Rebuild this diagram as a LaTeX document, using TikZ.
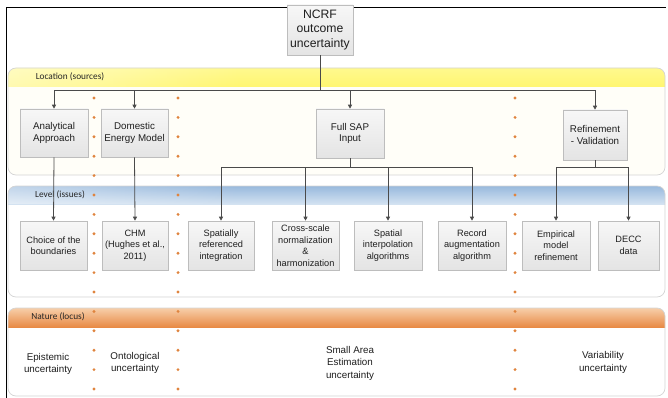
\documentclass[tikz,border=0pt]{standalone}
\usepackage{fontspec}
\setmainfont{Liberation Sans}
\newfontfamily\bandfont{Carlito}
\usetikzlibrary{arrows.meta,shadows,fadings}

\definecolor{boxline}{HTML}{BDBDBD}
\definecolor{boxtop}{HTML}{F7F7F7}
\definecolor{boxbot}{HTML}{E4E4E4}
\definecolor{wire}{HTML}{4A4A4A}
\definecolor{dotc}{HTML}{E0843E}
\definecolor{txt}{HTML}{1F1F1F}
\definecolor{panelline}{HTML}{D4D4D4}
\definecolor{cream}{HTML}{FFFEF8}
\definecolor{yA}{HTML}{FFF98E}
\definecolor{yB}{HTML}{FFF42C}
\definecolor{yC}{HTML}{FFF670}
\definecolor{bA}{HTML}{98B9DD}
\definecolor{bB}{HTML}{B1CAE6}
\definecolor{bC}{HTML}{D3E2F1}
\definecolor{oA}{HTML}{F7CFAA}
\definecolor{oB}{HTML}{F0A467}
\definecolor{oC}{HTML}{E88A45}

\tikzfading[name=paleleft, left color=transparent!0, right color=transparent!100]

\tikzset{
  box/.style={draw=boxline, line width=0.6pt, top color=boxtop, bottom color=boxbot,
    align=center, text=txt, inner sep=1pt,
    drop shadow={shadow xshift=1.3pt, shadow yshift=-1.3pt, opacity=0.25}},
  srcbox/.style={box, font=\fontsize{9.8}{11.5}\selectfont, minimum height=48pt},
  issuebox/.style={box, font=\fontsize{9.2}{11.5}\selectfont, minimum height=49pt},
  naturetext/.style={align=center, text=txt, font=\fontsize{9.8}{12.5}\selectfont},
  bandlabel/.style={text=black!85, font=\bandfont\fontsize{9.3}{11}\selectfont},
  wirestyle/.style={draw=wire, line width=0.8pt},
  arr/.style={wirestyle, -{Triangle[length=4pt, width=4pt]}},
  odot/.style={fill=dotc, draw=none},
}

\begin{document}
\begin{tikzpicture}[x=1pt, y=-1pt]
\useasboundingbox (0,0) rectangle (668,398);

% outer frame edges
\draw[black, line width=0.8pt] (6,398) -- (6,7) -- (666,7);

% ---- panels with coloured header bands ----
% Location (sources)
\fill[cream, rounded corners=8pt] (8,68) rectangle (665,175);
\begin{scope}
  \clip[rounded corners=8pt] (8,68) rectangle (665,175);
  \shade[top color=yA, middle color=yB, bottom color=yC] (8,68) rectangle (665,87);
  \fill[white, fill opacity=0.45, path fading=paleleft] (8,68) rectangle (240,87);
\end{scope}
\draw[panelline, line width=0.7pt, rounded corners=8pt] (8,68) rectangle (665,175);

% Level (issues)
\fill[white, rounded corners=8pt] (8,186) rectangle (665,297);
\begin{scope}
  \clip[rounded corners=8pt] (8,186) rectangle (665,297);
  \shade[top color=bA, middle color=bB, bottom color=bC] (8,186) rectangle (665,204);
  \fill[white, fill opacity=0.4, path fading=paleleft] (8,186) rectangle (240,204);
\end{scope}
\draw[panelline, line width=0.7pt, rounded corners=8pt] (8,186) rectangle (665,297);

% Nature (locus)
\fill[white, rounded corners=8pt] (8,308) rectangle (665,396);
\begin{scope}
  \clip[rounded corners=8pt] (8,308) rectangle (665,396);
  \shade[top color=oA, middle color=oB, bottom color=oC] (8,308) rectangle (665,327);
\end{scope}
\draw[panelline, line width=0.7pt, rounded corners=8pt] (8,308) rectangle (665,396);

\node[bandlabel] (lbl1) at (70,77) {Location (sources)};
\node[bandlabel] (lbl2) at (60,195) {Level (issues)};
\node[bandlabel] (lbl3) at (58,317) {Nature (locus)};

% ---- dotted column separators ----
\foreach \cx in {94,178,515}{
  \foreach \k in {0,...,15}{
    \fill[odot] (\cx,98+19.4*\k) circle (1.6pt);
  }
}

% ---- root ----
\node[box, font=\fontsize{12.2}{14.5}\selectfont, minimum width=66pt, minimum height=50pt]
  (ncrf) at (320,30) {NCRF\\outcome\\uncertainty};

% ---- sources ----
\node[srcbox, minimum width=68pt] (ana) at (54,133) {Analytical\\Approach};
\node[srcbox, minimum width=67pt] (dem) at (134.5,133) {Domestic\\Energy Model};
\node[srcbox, minimum width=68pt, minimum height=49pt] (sap) at (350,133.5) {Full SAP\\Input};
\node[srcbox, minimum width=64pt, minimum height=50pt] (ref) at (595,135) {Refinement\\- Validation};

% ---- issues ----
\node[issuebox, minimum width=67pt] (choice) at (53.5,245.5) {Choice of the\\boundaries};
\node[issuebox, minimum width=66pt] (chm) at (135,245.5) {CHM\\(Hughes et al.,\\2011)};
\node[issuebox, minimum width=66pt] (sri) at (221,245.5) {Spatially\\referenced\\integration};
\node[issuebox, minimum width=65pt, text width=65pt] (csn) at (305.5,245.5) {Cross-scale\\normalization\\\&\\harmonization};
\node[issuebox, minimum width=68pt] (sia) at (388,245.5) {Spatial\\interpolation\\algorithms};
\node[issuebox, minimum width=68pt] (raa) at (472,245.5) {Record\\augmentation\\algorithm};
\node[issuebox, minimum width=68pt] (emr) at (556,245.5) {Empirical\\model\\refinement};
\node[issuebox, minimum width=61pt] (decc) at (628.5,245.5) {DECC\\data};

% ---- nature ----
\node[naturetext] (epi) at (48,364) {Epistemic\\uncertainty};
\node[naturetext] (ont) at (135,363) {Ontological\\uncertainty};
\node[naturetext] (sae) at (350,363) {Small Area\\Estimation\\uncertainty};
\node[naturetext] (var) at (603,362.5) {Variability\\uncertainty};

% ---- connectors ----
\foreach \t in {ana,dem,sap,ref}{
  \draw[arr] (ncrf.south) -- ++(0,35) -| (\t.north);
}
\draw[arr] (ana.south) -- (choice.north);
\draw[arr] (dem.south) -- (chm.north);
\foreach \t in {sri,csn,sia,raa}{
  \draw[arr] (sap.south) -- ++(0,9) -| (\t.north);
}
\foreach \t in {emr,decc}{
  \draw[arr] (ref.south) -- ++(0,7) -| (\t.north);
}
\end{tikzpicture}
\end{document}
